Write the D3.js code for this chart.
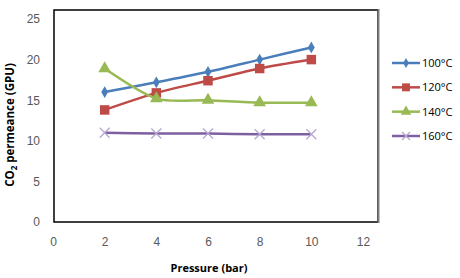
<!DOCTYPE html>
<html>
  <head>
    <meta charset="utf-8">
    <title>CO2 permeance</title>
    <script src="https://cdn.jsdelivr.net/npm/d3@7"></script>
    <style>
      body { margin: 0; background: #fff; }
      svg { font-family: "Open Sans", "Liberation Sans", sans-serif; }
      .tick text { fill: #595959; font-size: 12px; }
      .axisTitle { font-weight: bold; font-size: 11px; fill: #000; }
      .legend text { font-size: 11px; fill: #000; }
    </style>
  </head>
  <body>
    <div id="container"></div>
    <script>
      // data
      pressure = [2, 4, 6, 8, 10];
      seriesNames = ["100°C", "120°C", "140°C", "160°C"];
      p100 = [16, 17.2, 18.5, 20, 21.5];
      p120 = [13.8, 15.9, 17.4, 18.9, 20];
      p140 = [18.9, 15.2, 15, 14.7, 14.7];
      p160 = [11, 10.9, 10.9, 10.8, 10.8];
      xTicks = [0, 2, 4, 6, 8, 10, 12];
      yTicks = [0, 5, 10, 15, 20, 25];

      colours = ["#4a7ebb", "#be4b48", "#98b954", "#7d60a0"];
      markerColours = ["#4a7ebb", "#be4b48", "#98b954", "#b9a7d2"];
      symbols = [d3.symbolDiamond, d3.symbolSquare, d3.symbolTriangle, d3.symbolCross];
      sizes = [40, 90, 70, 0];

      series = [p100, p120, p140, p160].map((vals, i) => ({
        name: seriesNames[i],
        points: vals.map((v, j) => ({x: pressure[j], y: v}))
      }));

      width = 460;
      height = 278;

      svg = d3.select("#container").append("svg")
        .attr("width", width)
        .attr("height", height);

      xScale = d3.scaleLinear().domain([0, 12]).range([53, 363]);
      yScale = d3.scaleLinear().domain([0, 25]).range([222, 19]);

      // plot frame
      svg.append("rect")
        .attr("x", 54).attr("y", 10)
        .attr("width", 324).attr("height", 212)
        .attr("fill", "none")
        .attr("stroke", "#000")
        .attr("stroke-width", 1.5);
      svg.append("line")
        .attr("x1", 378.5).attr("x2", 378.5)
        .attr("y1", 9).attr("y2", 223)
        .attr("stroke", "#7f7f7f")
        .attr("stroke-width", 2);

      // axes
      svg.append("g")
        .attr("transform", "translate(0,222)")
        .call(d3.axisBottom(xScale).tickValues(xTicks).tickSize(0).tickPadding(15))
        .call(g => g.select(".domain").remove());

      svg.append("g")
        .attr("transform", "translate(54,0)")
        .call(d3.axisLeft(yScale).tickValues(yTicks).tickSize(0).tickPadding(14))
        .call(g => g.select(".domain").remove());

      svg.append("text")
        .classed("axisTitle", true)
        .attr("x", 209).attr("y", 272)
        .attr("text-anchor", "middle")
        .text("Pressure (bar)");

      yTitle = svg.append("text")
        .classed("axisTitle", true)
        .style("font-size", "11.5px")
        .attr("transform", "translate(14,125) rotate(-90)")
        .attr("text-anchor", "middle");
      yTitle.append("tspan").text("CO");
      yTitle.append("tspan").attr("font-size", "8px").attr("dy", 3).text("2");
      yTitle.append("tspan").attr("dy", -3).text(" permeance (GPU)");

      // lines
      line = d3.line()
        .x(d => xScale(d.x))
        .y(d => yScale(d.y))
        .curve(d3.curveCardinal.tension(0.2));

      groups = svg.selectAll(".series")
        .data(series)
        .enter().append("g")
          .classed("series", true);

      groups.append("path")
        .attr("d", d => line(d.points))
        .attr("fill", "none")
        .attr("stroke", (d, i) => colours[i])
        .attr("stroke-width", 2.5);

      function drawMarker(sel, i, size) {
        if (i === 3) {
          sel.append("path")
            .attr("d", "M-5,-5L5,5M-5,5L5,-5")
            .attr("stroke", markerColours[i])
            .attr("stroke-width", 1.3)
            .attr("fill", "none");
        } else {
          sel.append("path")
            .attr("d", d3.symbol().type(symbols[i]).size(size)())
            .attr("fill", markerColours[i]);
        }
      }

      groups.each(function(d, i) {
        d3.select(this).selectAll(".marker")
          .data(d.points)
          .enter().append("g")
            .classed("marker", true)
            .attr("transform", p => "translate(" + xScale(p.x) + "," + yScale(p.y) + ")")
            .each(function() { drawMarker(d3.select(this), i, sizes[i]); });
      });

      // legend
      legendY = d3.scalePoint().domain(seriesNames).range([63, 136]);
      legend = svg.selectAll(".legend")
        .data(seriesNames)
        .enter().append("g")
          .classed("legend", true)
          .attr("transform", d => "translate(392," + legendY(d) + ")");

      legend.append("line")
        .attr("x1", 0).attr("x2", 28)
        .attr("stroke", (d, i) => colours[i])
        .attr("stroke-width", 2.5);

      legend.each(function(d, i) {
        let g = d3.select(this).append("g").attr("transform", "translate(14,0)");
        if (i === 3) {
          g.append("path")
            .attr("d", "M-4,-4L4,4M-4,4L4,-4")
            .attr("stroke", markerColours[i])
            .attr("stroke-width", 1.2);
        } else {
          g.append("path")
            .attr("d", d3.symbol().type(symbols[i]).size(sizes[i] * 0.7)())
            .attr("fill", markerColours[i]);
        }
      });

      legend.append("text")
        .attr("x", 30).attr("dy", "0.35em")
        .text(d => d);
    </script>
  </body>
</html>
